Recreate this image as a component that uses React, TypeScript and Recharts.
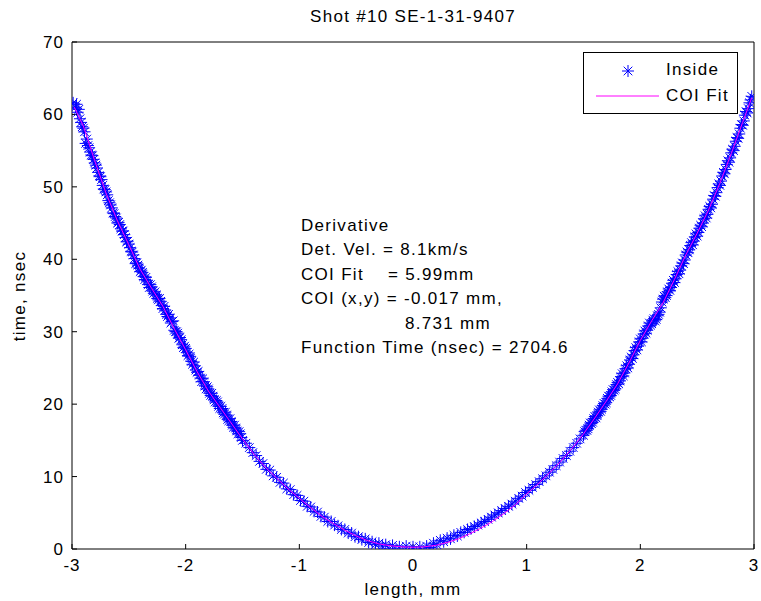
import { ComposedChart, Scatter, Line, XAxis, YAxis } from 'recharts';

// measured points, [length mm, time nsec]
const insideLeft = [
  [-2.99, 61.6], [-2.97, 61.0], [-2.96, 61.4], [-2.94, 60.7], [-2.92, 58.9], [-2.9, 58.1], [-2.88, 56.0], [-2.86, 55.7],
  [-2.84, 54.8], [-2.82, 54.3], [-2.8, 53.3], [-2.78, 52.6], [-2.76, 51.5], [-2.74, 51.0], [-2.72, 49.7], [-2.7, 49.3],
  [-2.68, 48.1], [-2.66, 47.5], [-2.64, 46.4], [-2.62, 45.9], [-2.6, 45.0], [-2.58, 44.8], [-2.56, 43.9], [-2.54, 43.4],
  [-2.52, 42.4], [-2.5, 42.1], [-2.48, 41.1], [-2.46, 40.6], [-2.44, 39.4], [-2.42, 39.2], [-2.4, 38.3], [-2.38, 38.2],
  [-2.36, 37.2], [-2.34, 37.1], [-2.32, 36.1], [-2.3, 36.2], [-2.28, 35.3], [-2.26, 35.1], [-2.24, 34.4], [-2.22, 34.2],
  [-2.2, 33.2], [-2.18, 33.0], [-2.16, 32.1], [-2.14, 31.9], [-2.12, 31.4], [-2.1, 30.2], [-2.08, 30.0], [-2.06, 29.1],
  [-2.04, 28.9], [-2.02, 27.8], [-2.0, 27.7], [-1.98, 26.7], [-1.96, 26.6], [-1.94, 25.5], [-1.92, 25.3], [-1.9, 24.4],
  [-1.88, 24.0], [-1.86, 23.1], [-1.84, 23.1], [-1.82, 22.1], [-1.8, 22.1], [-1.78, 21.2], [-1.76, 21.1], [-1.74, 20.3],
  [-1.72, 20.3], [-1.7, 19.4], [-1.68, 19.4], [-1.66, 18.6], [-1.64, 18.5], [-1.62, 17.7], [-1.6, 17.6], [-1.58, 16.8],
  [-1.56, 16.7], [-1.54, 15.9], [-1.52, 15.9], [-1.5, 15.0],
];

const insideLeftB = [
  [-2.95, 60.3], [-2.93, 59.4], [-2.91, 58.3], [-2.89, 57.6], [-2.87, 56.6], [-2.85, 55.4], [-2.83, 54.4], [-2.81, 53.8],
  [-2.79, 53.0], [-2.77, 52.0], [-2.75, 51.4], [-2.73, 50.2], [-2.71, 49.6], [-2.69, 48.9], [-2.67, 47.8], [-2.65, 47.1],
  [-2.63, 46.3], [-2.61, 45.7], [-2.59, 45.1], [-2.57, 44.2], [-2.55, 43.9], [-2.53, 43.0], [-2.51, 42.5], [-2.49, 41.6],
  [-2.47, 41.0], [-2.45, 40.1], [-2.43, 39.5], [-2.41, 38.8], [-2.39, 38.5], [-2.37, 37.6], [-2.35, 37.5], [-2.33, 36.5],
  [-2.31, 36.5], [-2.29, 35.6], [-2.27, 35.5], [-2.25, 34.6], [-2.23, 34.6], [-2.21, 33.6], [-2.19, 33.5], [-2.17, 32.4],
  [-2.15, 32.4], [-2.13, 31.2], [-2.11, 31.5], [-2.09, 30.0], [-2.07, 29.8], [-2.05, 29.2], [-2.03, 28.2], [-2.01, 28.0],
  [-1.99, 27.1], [-1.97, 26.9], [-1.95, 25.9], [-1.93, 25.8], [-1.91, 24.7], [-1.89, 24.5], [-1.87, 23.6], [-1.85, 23.5],
  [-1.83, 22.5], [-1.81, 22.4], [-1.79, 21.5], [-1.77, 21.5], [-1.75, 20.6], [-1.73, 20.5], [-1.71, 19.7], [-1.69, 19.7],
  [-1.67, 18.8], [-1.65, 18.9], [-1.63, 17.9], [-1.61, 18.0], [-1.59, 17.1], [-1.57, 17.1], [-1.55, 16.3], [-1.53, 16.2],
  [-1.51, 15.4],
];

const insideBottom = [
  [-1.47, 14.6], [-1.44, 14.0], [-1.41, 13.3], [-1.38, 12.9], [-1.35, 12.1], [-1.32, 11.8], [-1.29, 11.0], [-1.26, 10.9],
  [-1.23, 10.1], [-1.2, 9.9], [-1.17, 9.2], [-1.14, 9.1], [-1.11, 8.3], [-1.08, 8.2], [-1.05, 7.5], [-1.02, 7.4],
  [-0.99, 6.7], [-0.96, 6.6], [-0.93, 5.9], [-0.9, 5.8], [-0.87, 5.2], [-0.84, 5.1], [-0.81, 4.5], [-0.78, 4.4],
  [-0.75, 3.8], [-0.72, 3.8], [-0.69, 3.3], [-0.66, 3.2], [-0.63, 2.7], [-0.6, 2.7], [-0.57, 2.2], [-0.54, 2.2],
  [-0.51, 1.7], [-0.48, 1.7], [-0.45, 1.3], [-0.42, 1.4], [-0.39, 0.9], [-0.36, 1.0], [-0.33, 0.6], [-0.3, 0.8],
  [-0.27, 0.4], [-0.24, 0.6], [-0.21, 0.0], [-0.18, 0.5], [-0.15, -0.2], [-0.12, 0.3], [-0.09, -0.3], [-0.06, 0.4],
  [-0.03, -0.4], [0.0, 0.3], [0.03, -0.4], [0.06, 0.3], [0.09, -0.3], [0.12, 0.4], [0.15, 0.2], [0.18, 0.8],
  [0.21, 0.6], [0.24, 1.2], [0.27, 1.0], [0.3, 1.5], [0.33, 1.4], [0.36, 1.9], [0.39, 1.8], [0.42, 2.3],
  [0.45, 2.3], [0.48, 2.7], [0.51, 2.8], [0.54, 3.1], [0.57, 3.3], [0.6, 3.6], [0.63, 3.8], [0.66, 4.1],
  [0.69, 4.4], [0.72, 4.7], [0.75, 5.0], [0.78, 5.3], [0.81, 5.6], [0.84, 5.9], [0.87, 6.2], [0.9, 6.6],
  [0.93, 7.0], [0.96, 7.3], [0.99, 7.8], [1.02, 8.1], [1.05, 8.5], [1.08, 8.9], [1.11, 9.3], [1.14, 9.7],
  [1.17, 10.1], [1.2, 10.6], [1.23, 11.0], [1.26, 11.5], [1.29, 12.0], [1.32, 12.5], [1.35, 12.9], [1.38, 13.5],
  [1.41, 14.0], [1.44, 14.6], [1.47, 15.2],
];

const insideRight = [
  [1.5, 15.7], [1.52, 16.4], [1.54, 16.6], [1.56, 17.4], [1.58, 17.5], [1.6, 18.3], [1.62, 18.4], [1.64, 19.2],
  [1.66, 19.3], [1.68, 20.1], [1.7, 20.2], [1.72, 21.1], [1.74, 21.2], [1.76, 22.0], [1.78, 22.1], [1.8, 23.0],
  [1.82, 23.2], [1.84, 24.2], [1.86, 24.3], [1.88, 25.3], [1.9, 25.5], [1.92, 26.5], [1.94, 26.8], [1.96, 27.8],
  [1.98, 28.0], [2.0, 29.0], [2.02, 29.1], [2.04, 30.1], [2.06, 30.2], [2.08, 31.2], [2.1, 31.1], [2.12, 31.8],
  [2.14, 31.7], [2.16, 32.4], [2.18, 33.3], [2.19, 34.1], [2.21, 34.9], [2.23, 35.0], [2.25, 35.9], [2.27, 36.1],
  [2.29, 37.1], [2.31, 37.3], [2.33, 38.3], [2.35, 38.5], [2.37, 39.5], [2.39, 39.9], [2.41, 41.0], [2.43, 41.3],
  [2.45, 42.3], [2.47, 42.5], [2.49, 43.5], [2.51, 43.7], [2.53, 44.7], [2.55, 45.0], [2.57, 46.0], [2.59, 46.2],
  [2.61, 47.3], [2.63, 47.6], [2.65, 48.8], [2.67, 49.2], [2.69, 50.4], [2.71, 50.8], [2.73, 52.0], [2.75, 52.4],
  [2.77, 53.6], [2.79, 54.0], [2.81, 55.2], [2.83, 55.6], [2.85, 56.8], [2.87, 57.3], [2.89, 58.6], [2.91, 59.1],
  [2.93, 60.4], [2.95, 60.8], [2.97, 62.0], [2.98, 62.5],
];

const insideRightB = [
  [1.51, 16.2], [1.53, 16.4], [1.55, 17.1], [1.57, 17.3], [1.59, 18.0], [1.61, 18.1], [1.63, 18.9], [1.65, 19.0],
  [1.67, 19.8], [1.69, 20.0], [1.71, 20.8], [1.73, 21.0], [1.75, 21.7], [1.77, 21.9], [1.79, 22.7], [1.81, 22.8],
  [1.83, 23.8], [1.85, 23.9], [1.87, 24.9], [1.89, 25.0], [1.91, 26.1], [1.93, 26.3], [1.95, 27.4], [1.97, 27.5],
  [1.99, 28.6], [2.01, 28.6], [2.03, 29.7], [2.05, 29.8], [2.07, 30.8], [2.09, 30.9], [2.11, 31.6], [2.13, 31.5],
  [2.15, 32.2], [2.17, 32.7], [2.2, 34.5], [2.22, 34.7], [2.24, 35.5], [2.26, 35.7], [2.28, 36.7], [2.3, 36.8],
  [2.32, 37.9], [2.34, 38.0], [2.36, 39.1], [2.38, 39.4], [2.4, 40.6], [2.42, 40.9], [2.44, 41.9], [2.46, 42.0],
  [2.48, 43.1], [2.5, 43.2], [2.52, 44.3], [2.54, 44.5], [2.56, 45.6], [2.58, 45.7], [2.6, 46.9], [2.62, 47.1],
  [2.64, 48.3], [2.66, 48.7], [2.68, 49.9], [2.7, 50.2], [2.72, 51.5], [2.74, 51.8], [2.76, 53.1], [2.78, 53.4],
  [2.8, 54.7], [2.82, 55.0], [2.84, 56.3], [2.86, 56.7], [2.88, 58.1], [2.9, 58.5], [2.92, 59.9], [2.94, 60.2],
  [2.96, 61.6],
];

// COI fit curve
const fitX = [
  -2.98, -2.9, -2.8, -2.7, -2.6, -2.5, -2.4, -2.3, -2.2, -2.1, -2.0, -1.9, -1.8, -1.7, -1.6, -1.5, -1.4, -1.3, -1.2, -1.1,
  -1.0, -0.9, -0.8, -0.7, -0.6, -0.5, -0.4, -0.3, -0.2, -0.1, 0.0, 0.1, 0.2, 0.3, 0.4, 0.5, 0.6, 0.7, 0.8, 0.9,
  1.0, 1.1, 1.2, 1.3, 1.4, 1.5, 1.6, 1.7, 1.8, 1.9, 2.0, 2.1, 2.2, 2.3, 2.4, 2.5, 2.6, 2.7, 2.8, 2.9, 2.98,
];
const fitY = [
  61.0, 58.4, 53.6, 49.1, 45.3, 42.0, 38.6, 36.0, 33.5, 30.4, 27.5, 24.5, 21.8, 19.6, 17.4, 15.2, 13.1, 11.3, 9.8, 8.3,
  7.0, 5.7, 4.5, 3.5, 2.6, 1.8, 1.15, 0.7, 0.45, 0.3, 0.25, 0.3, 0.5, 0.9, 1.4, 2.1, 2.9, 3.8, 4.9, 6.1,
  7.6, 9.0, 10.5, 12.1, 13.9, 15.9, 18.1, 20.4, 22.8, 25.7, 28.8, 31.5, 34.0, 37.2, 40.6, 43.6, 46.8, 50.5, 54.6, 58.9, 62.3,
];

const xTicks = [-3, -2, -1, 0, 1, 2, 3];
const yTicks = [0, 10, 20, 30, 40, 50, 60, 70];

const notes = [
  'Derivative',
  'Det. Vel. = 8.1km/s',
  'COI Fit    = 5.99mm',
  'COI (x,y) = -0.017 mm,',
  '8.731 mm',
  'Function Time (nsec) = 2704.6',
];

const inside = [...insideLeft, ...insideLeftB, ...insideBottom, ...insideRight, ...insideRightB].map(([x, y]) => ({ x, y }));
const fit = fitX.map((x, i) => ({ x, y: fitY[i] }));

const FONT = '"Liberation Sans", Arial, Helvetica, sans-serif';
const tickStyle = { fill: '#000', fontSize: 17, fontFamily: FONT, letterSpacing: 1 };

function Star(props: any) {
  const { cx, cy } = props;
  if (cx == null || cy == null) return null;
  const r = 6;
  const d = 4.3;
  return (
    <g stroke="#0000ff" strokeWidth={1}>
      <line x1={cx - r} y1={cy} x2={cx + r} y2={cy} />
      <line x1={cx} y1={cy - r} x2={cx} y2={cy + r} />
      <line x1={cx - d} y1={cy - d} x2={cx + d} y2={cy + d} />
      <line x1={cx - d} y1={cy + d} x2={cx + d} y2={cy - d} />
    </g>
  );
}

const textStyle = {
  position: 'absolute' as const,
  fontFamily: FONT,
  fontSize: 17,
  letterSpacing: 1.3,
  color: '#000',
  whiteSpace: 'pre' as const,
  lineHeight: '18px',
};

export default function App() {
  return (
    <div style={{ position: 'absolute', left: 0, top: 0, width: 761, height: 601, background: '#fff' }}>
      <ComposedChart width={761} height={601} margin={{ top: 32, right: 0, bottom: 22, left: 32 }}>
        <XAxis
          xAxisId={0}
          dataKey="x"
          type="number"
          domain={[-3, 3]}
          ticks={xTicks}
          allowDataOverflow
          height={30}
          stroke="#000"
          tickSize={-5}
          tickMargin={15}
          tick={tickStyle}
        />
        <XAxis
          xAxisId="top"
          orientation="top"
          type="number"
          domain={[-3, 3]}
          ticks={xTicks}
          height={10}
          stroke="#000"
          tickSize={-5}
          tick={false}
        />
        <YAxis
          yAxisId={0}
          type="number"
          domain={[0, 70]}
          ticks={yTicks}
          allowDataOverflow
          width={40}
          stroke="#000"
          tickSize={-5}
          tickMargin={13}
          tick={tickStyle}
        />
        <YAxis
          yAxisId="right"
          orientation="right"
          type="number"
          domain={[0, 70]}
          ticks={yTicks}
          width={7}
          stroke="#000"
          tickSize={-5}
          tick={false}
        />
        <Scatter data={inside} dataKey="y" shape={<Star />} isAnimationActive={false} />
        <Line
          data={fit}
          dataKey="y"
          stroke="#ff00ff"
          strokeWidth={1}
          dot={false}
          isAnimationActive={false}
          {...({ zIndex: 700 } as any)}
        />
      </ComposedChart>

      <div style={{ ...textStyle, left: 72, width: 682, top: 8, textAlign: 'center' }}>Shot #10 SE-1-31-9407</div>
      <div style={{ ...textStyle, left: 72, width: 682, top: 581, textAlign: 'center' }}>length, mm</div>
      <div style={{ ...textStyle, left: 20, top: 296, transform: 'translate(-50%, -50%) rotate(-90deg)' }}>time, nsec</div>

      {notes.map((t, i) => (
        <div key={i} style={{ ...textStyle, left: i === 4 ? 405 : 301, top: 217 + i * 24.4 }}>{t}</div>
      ))}

      <div
        style={{
          position: 'absolute',
          left: 583,
          top: 52,
          width: 155,
          height: 62,
          boxSizing: 'border-box',
          border: '1px solid #000',
          background: '#fff',
        }}
      >
        <svg width={80} height={60} style={{ position: 'absolute', left: 0, top: 0 }}>
          <Star cx={44} cy={18} />
          <line x1={12} y1={43} x2={75} y2={43} stroke="#ff00ff" strokeWidth={1} />
        </svg>
        <div style={{ ...textStyle, left: 82, top: 8 }}>Inside</div>
        <div style={{ ...textStyle, left: 82, top: 34 }}>COI Fit</div>
      </div>
    </div>
  );
}
